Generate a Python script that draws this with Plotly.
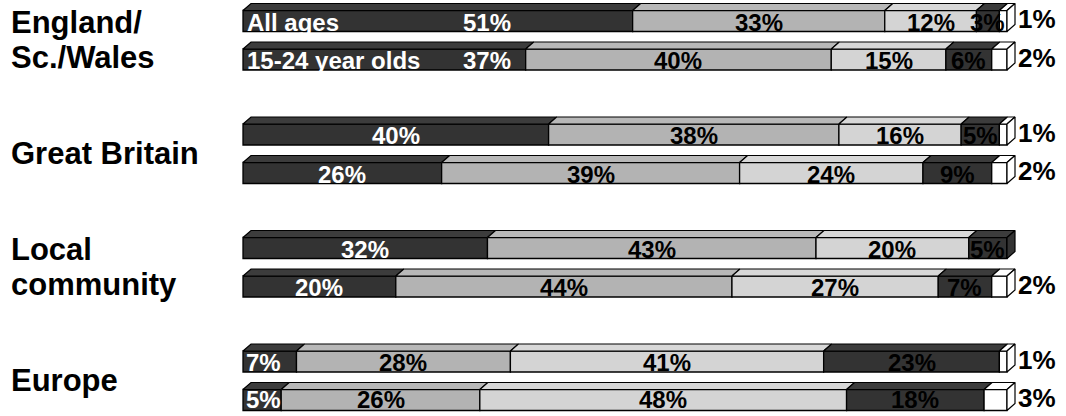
import plotly.graph_objects as go

# ---------------- data ----------------
groups = [["England/", "Sc./Wales"], ["Great Britain"], ["Local", "community"], ["Europe"]]
row_notes = ["All ages", "15-24 year olds", "", "", "", "", "", ""]
seg1 = [51, 37, 40, 26, 32, 20, 7, 5]
seg2 = [33, 40, 38, 39, 43, 44, 28, 26]
seg3 = [12, 15, 16, 24, 20, 27, 41, 48]
seg4 = [3, 6, 5, 9, 5, 7, 23, 18]
seg5 = [1, 2, 1, 2, 0, 2, 1, 3]

# ---------------- style / layout ----------------
W, H = 1066, 416
L_PX, R_PX = 243, 1007          # pixel positions of 0% and 100%
PX_PER_UNIT = (R_PX - L_PX) / 100.0
FRONT_H = 21                     # front face height (y units = px)
DX_PX, DY_PX = 8, 7              # 3D depth
dx = DX_PX / PX_PER_UNIT
dy = DY_PX
colors = ["#333333", "#b3b3b3", "#d4d4d4", "#333333", "#ffffff"]
top_colors = ["#3c3c3c", "#b8b8b8", "#d8d8d8", "#3c3c3c", "#ffffff"]
txt_colors = ["white", "black", "black", "black", "black"]
FONT = "Liberation Sans, Arial, sans-serif"
LBL_SIZE = 24
OUT_SIZE = 26
NOTE_SIZE = 24
CAT_SIZE = 31
CAT_LINE = 35

def px_to_x(px):
    return (px - L_PX) / PX_PER_UNIT

# row centre positions (y axis in pixel units, reversed)
row_y = []
for g in range(4):
    for r in range(2):
        row_y.append(21 + g * 113.5 + r * 38.5)

series = [seg1, seg2, seg3, seg4, seg5]
n = len(seg1)

fig = go.Figure()

# front faces
bases = [0] * n
for k, s in enumerate(series):
    fig.add_trace(go.Bar(
        orientation="h", y=row_y, x=s, base=list(bases), width=FRONT_H,
        marker=dict(color=colors[k], line=dict(color="black", width=1.3)),
        hoverinfo="skip", showlegend=False))
    bases = [b + v for b, v in zip(bases, s)]

# top faces
for k, s in enumerate(series):
    xs, ys = [], []
    base = [sum(series[j][i] for j in range(k)) for i in range(n)]
    for i in range(n):
        if s[i] <= 0:
            continue
        x0, x1 = base[i], base[i] + s[i]
        yt = row_y[i] - FRONT_H / 2
        xs += [x0, x1, x1 + dx, x0 + dx, x0, None]
        ys += [yt, yt, yt - dy, yt - dy, yt, None]
    fig.add_trace(go.Scatter(x=xs, y=ys, mode="lines", fill="toself",
                             fillcolor=top_colors[k], line=dict(color="black", width=1.2),
                             hoverinfo="skip", showlegend=False))

# right side faces (on the last non-empty segment)
for i in range(n):
    last = max(k for k in range(5) if series[k][i] > 0)
    xe = sum(series[k][i] for k in range(5))
    yt = row_y[i] - FRONT_H / 2
    yb = row_y[i] + FRONT_H / 2
    fig.add_trace(go.Scatter(
        x=[xe, xe + dx, xe + dx, xe, xe], y=[yt, yt - dy, yb - dy, yb, yt],
        mode="lines", fill="toself", fillcolor=colors[last],
        line=dict(color="black", width=1.2), hoverinfo="skip", showlegend=False))

# labels
ann = []
for i in range(n):
    base = 0
    ly = row_y[i] - 1 if i == n - 1 else row_y[i] + 1
    for k, s in enumerate(series):
        v = s[i]
        if v <= 0:
            base += v
            continue
        f = dict(size=LBL_SIZE, color=txt_colors[k], family=FONT, weight="bold")
        if k == 4:
            ann.append(dict(x=100 + dx + 0.1, y=row_y[i] - 2, text=f"{v}%", xanchor="left",
                            showarrow=False,
                            font=dict(size=OUT_SIZE, color="black", family=FONT, weight="bold")))
        else:
            cx = base + v / 2
            if k == 0 and row_notes[i]:
                cx = 32
            if k == 0 and v < 8:
                ann.append(dict(x=px_to_x(L_PX + 1), y=ly, text=f"{v}%", xanchor="left",
                                showarrow=False, font=f))
            else:
                ann.append(dict(x=cx, y=ly, text=f"{v}%", xanchor="center",
                                showarrow=False, font=f))
        base += v
    if row_notes[i]:
        ann.append(dict(x=px_to_x(L_PX + 2), y=ly, text=row_notes[i], xanchor="left",
                        showarrow=False, font=dict(size=NOTE_SIZE, color="white", family=FONT, weight="bold")))

# category labels
for g, lines in enumerate(groups):
    mid = (row_y[2 * g] + row_y[2 * g + 1]) / 2
    m = len(lines)
    for j, t in enumerate(lines):
        yy = mid + (j - (m - 1) / 2) * CAT_LINE
        ann.append(dict(x=px_to_x(9), y=yy, text=t, xanchor="left", yanchor="middle",
                        showarrow=False, font=dict(size=CAT_SIZE, color="black", family=FONT, weight="bold")))

fig.update_layout(
    width=W, height=H, margin=dict(l=0, r=0, t=0, b=0),
    paper_bgcolor="white", plot_bgcolor="white", barmode="overlay",
    xaxis=dict(range=[px_to_x(0), px_to_x(W)], visible=False, fixedrange=True),
    yaxis=dict(range=[H, 0], visible=False, fixedrange=True),
    annotations=ann, showlegend=False)

fig.write_html("out.html")
